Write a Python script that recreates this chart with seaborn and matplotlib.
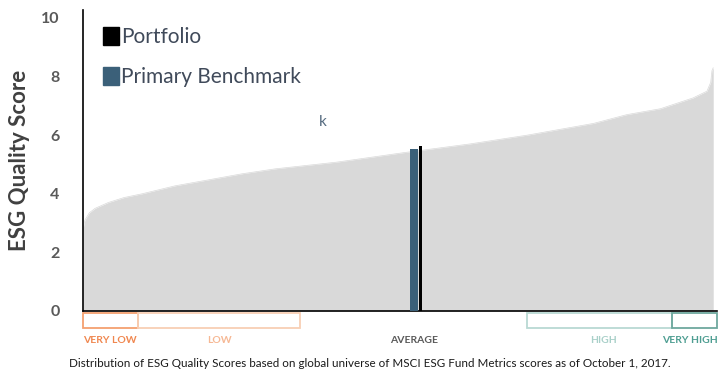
import matplotlib
matplotlib.use('Agg')
import matplotlib.pyplot as plt
import seaborn as sns
import pandas as pd
from matplotlib.patches import Patch, Rectangle

# --
# Data

pct = [0, 0.3, 1.0, 1.9, 4.0, 6.5, 9.4, 14.6, 19.8, 25.2, 30.5, 40.3, 50.8,
       61.4, 70.5, 81.0, 86.3, 91.6, 96.8, 99.0, 99.6, 99.8, 100]
score = [2.8, 3.1, 3.35, 3.5, 3.7, 3.87, 4.0, 4.27, 4.47, 4.68, 4.85, 5.08, 5.4,
         5.7, 6.0, 6.4, 6.7, 6.9, 7.27, 7.5, 7.8, 8.2, 8.3]

bar_names = ['Primary Benchmark', 'Portfolio']
bar_pos = [52.5, 53.55]
bar_val = [5.53, 5.63]
bar_width = [1.3, 0.6]
bar_colors = ['#3b6079', '#000000']

band_names = ['VERY LOW', 'LOW', 'AVERAGE', 'HIGH', 'VERY HIGH']
band_lo = [0, 8.7, None, 70.5, 93.5]
band_hi = [8.7, 34.4, None, 93.5, 100.6]
band_label_x = [4.3, 21.7, 52.5, 82.6, 96.3]
band_edge = ['#f4a070', '#f8cfb4', None, '#b9d9d3', '#6ea89e']
band_text = ['#f0874f', '#f6b894', '#595959', '#a9d0c9', '#4e9e92']

yticks = [0, 2, 4, 6, 8, 10]

df = pd.DataFrame({'pct': pct, 'score': score})

# --
# Plot

sns.set_style('white')
plt.rcParams['font.family'] = ['Lato', 'DejaVu Sans']

fig = plt.figure(figsize=(7.2, 3.72), dpi=100)
ax = fig.add_axes([83 / 720, 1 - 311 / 372, 634 / 720, 301 / 372])

sns.lineplot(data=df, x='pct', y='score', ax=ax, color='#d9d9d9', lw=0.5)
ax.fill_between(df['pct'], 0, df['score'], color='#d9d9d9', lw=0)

for p, v, w, c in zip(bar_pos, bar_val, bar_width, bar_colors):
    ax.bar(p, v, width=w, color=c, edgecolor='none', linewidth=0, zorder=3)

ax.set_xlim(0, 100.6)
ax.set_ylim(0, 10.27)
ax.set_yticks(yticks)
ax.set_yticklabels([str(t) for t in yticks], color='#595959', fontsize=11.5,
                   fontweight='bold')
ax.tick_params(axis='y', length=0, pad=17)
ax.set_xticks([])
ax.set_xlabel('')
ax.set_ylabel('ESG Quality Score', fontsize=16, color='#404040',
              fontweight='bold', labelpad=8)

for s in ['top', 'right']:
    ax.spines[s].set_visible(False)
for s in ['left', 'bottom']:
    ax.spines[s].set_color('black')
    ax.spines[s].set_linewidth(1.2)

# rating brackets under the axis
for name, lo, hi, lx, ec, tc in zip(band_names, band_lo, band_hi,
                                     band_label_x, band_edge, band_text):
    if lo is not None:
        ax.add_patch(Rectangle((lo, -0.58), hi - lo, 0.52, fill=False,
                               ec=ec, lw=1.3, clip_on=False))
    ax.text(lx, -1.02, name, ha='center', va='center', fontsize=7.5,
            fontweight='bold', color=tc, clip_on=False)

fig.text(0.513, 0.024, 'Distribution of ESG Quality Scores based on global universe '
         'of MSCI ESG Fund Metrics scores as of October 1, 2017.',
         ha='center', va='center', fontsize=8.4, color='#1a1a1a')

ax.text(38.1, 6.45, 'k', fontsize=11, color='#556b80', ha='center', va='center')

handles = [Patch(facecolor='#000000', edgecolor='#000000', label='Portfolio'),
           Patch(facecolor='#3b6079', edgecolor='#3b6079', label='Primary Benchmark')]
leg = ax.legend(handles=handles, loc='upper left', bbox_to_anchor=(0.018, 0.972),
                frameon=False, fontsize=15, handlelength=0.8, handleheight=0.95,
                handletextpad=0.1, labelspacing=0.95, borderaxespad=0)
for t in leg.get_texts():
    t.set_color('#404a5a')

fig.savefig('out.png', dpi=100)
